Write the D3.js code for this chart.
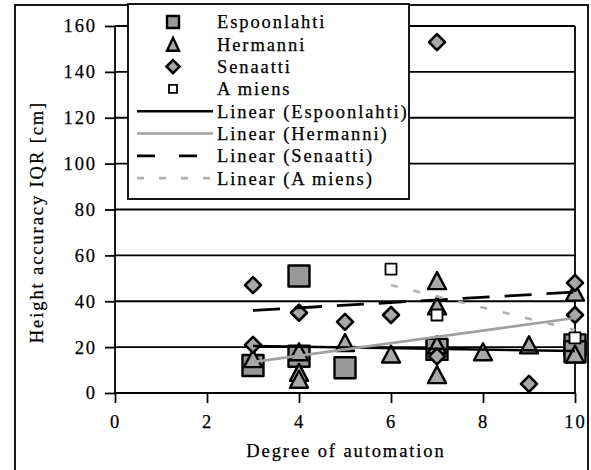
<!DOCTYPE html>
<html>
<head>
<meta charset="utf-8">
<script src="https://cdn.jsdelivr.net/npm/d3@7"></script>
<style>
    body { margin: 0; background: #fff; }
    svg { display: block; }
    text { font-family: "Liberation Serif", "Times New Roman", serif; font-size: 18.5px; letter-spacing: 1.9px; fill: #000; stroke: #000; stroke-width: 0.25px; }
</style>
</head>
<body>
<svg></svg>
<script>
    //-------------------
    // DATA
    //-------------------
    var xTicks = [0, 2, 4, 6, 8, 10];
    var yTicks = [0, 20, 40, 60, 80, 100, 120, 140, 160];

    var seriesNames = ["Espoonlahti", "Hermanni", "Senaatti", "A miens"];
    var trendNames = ["Linear (Espoonlahti)", "Linear (Hermanni)", "Linear (Senaatti)", "Linear (A miens)"];

    var espoonlahti = [[3, 12], [4, 51], [4, 16], [5, 11], [7, 19], [10, 21], [10, 18]];
    var hermanni = [[3, 15], [4, 18], [4, 9], [4, 6], [5, 22], [6, 17], [7, 49], [7, 38],
                    [7, 21], [7, 8], [8, 18], [9, 21], [10, 44], [10, 17]];
    var senaatti = [[3, 47], [3, 21], [4, 35], [5, 31], [6, 34], [7, 153], [7, 16], [9, 4], [10, 48], [10, 34]];
    var amiens = [[6, 54], [7, 34], [10, 24]];

    // trend line end points
    var trendEspoonlahti = [[3, 20.5], [10, 18.3]];
    var trendHermanni = [[3, 13.5], [10, 32.7]];
    var trendSenaatti = [[3, 36], [10, 44]];
    var trendAmiens = [[6, 47], [10, 27.5]];

    //-------------------
    // GLOBAL VARIABLES
    //-------------------
    var width = 591,
        height = 470;

    var svg = d3.select("svg")
        .attr("width", width)
        .attr("height", height);

    var x = d3.scaleLinear().domain([0, 10]).range([115, 575]);
    var y = d3.scaleLinear().domain([0, 160]).range([393, 26]);

    var gray = "#999";

    // marker path builders, centred on 0,0
    function squarePath(s) {
        return "M" + (-s / 2) + "," + (-s / 2) + "h" + s + "v" + s + "h" + (-s) + "Z";
    }
    function trianglePath(w, h) {
        return "M0," + (-h / 2) + "L" + (w / 2) + "," + (h / 2) + "L" + (-w / 2) + "," + (h / 2) + "Z";
    }
    function diamondPath(s) {
        return "M0," + (-s / 2) + "L" + (s / 2) + ",0L0," + (s / 2) + "L" + (-s / 2) + ",0Z";
    }

    var markers = [
        { data: espoonlahti, d: squarePath(21), legend: squarePath(12), fill: gray, sw: 2.4 },
        { data: hermanni, d: trianglePath(18, 17), legend: trianglePath(12, 13), fill: "#a8a8a8", sw: 2.4 },
        { data: senaatti, d: diamondPath(16), legend: diamondPath(13), fill: "#a8a8a8", sw: 2.6 },
        { data: amiens, d: squarePath(11), legend: squarePath(8), fill: "#fff", sw: 1.8 }
    ];

    var trends = [
        { data: trendEspoonlahti, stroke: "#000", dash: null, sw: 2.6 },
        { data: trendHermanni, stroke: "#a0a0a0", dash: null, sw: 2.6 },
        { data: trendSenaatti, stroke: "#000", dash: "27,15", sw: 2.8 },
        { data: trendAmiens, stroke: "#b0b0b0", dash: "7,16", sw: 2.6 }
    ];

    //-------------------
    // FRAME AND GRID
    //-------------------
    svg.append("rect")
        .attr("x", 15).attr("y", 5)
        .attr("width", 573).attr("height", 490)
        .attr("fill", "none")
        .attr("stroke", "#000")
        .attr("stroke-width", 1.8);

    svg.selectAll("line.grid").data(yTicks.filter(t => t > 0))
        .enter().append("line")
        .attr("class", "grid")
        .attr("x1", x(0)).attr("x2", x(10))
        .attr("y1", d => y(d)).attr("y2", d => y(d))
        .attr("stroke", "#000")
        .attr("stroke-width", 1.8);

    // right edge of plot area
    svg.append("line")
        .attr("x1", x(10)).attr("x2", x(10))
        .attr("y1", y(160)).attr("y2", y(0))
        .attr("stroke", "#000")
        .attr("stroke-width", 1.8);

    //-------------------
    // AXES
    //-------------------
    var yAxis = d3.axisLeft(y).tickValues(yTicks).tickSize(10).tickPadding(8);
    var xAxis = d3.axisBottom(x).tickValues(xTicks).tickSize(10).tickPadding(12);

    var gy = svg.append("g").attr("transform", "translate(" + x(0) + ",0)").call(yAxis);
    var gx = svg.append("g").attr("transform", "translate(0," + y(0) + ")").call(xAxis);

    [gy, gx].forEach(g => {
        g.select(".domain").remove();
        g.selectAll(".tick line").attr("stroke", "#000").attr("stroke-width", 1.8);
        g.selectAll(".tick text").attr("font-size", null).attr("font-family", null).attr("fill", "#000");
    });

    svg.append("line")
        .attr("x1", x(0)).attr("x2", x(0))
        .attr("y1", y(160)).attr("y2", y(0))
        .attr("stroke", "#000").attr("stroke-width", 1.8);
    svg.append("line")
        .attr("x1", x(0)).attr("x2", x(10))
        .attr("y1", y(0)).attr("y2", y(0))
        .attr("stroke", "#000").attr("stroke-width", 1.8);

    svg.append("text")
        .attr("x", 346).attr("y", 457)
        .attr("text-anchor", "middle")
        .text("Degree of automation");

    svg.append("text")
        .attr("transform", "translate(43,222) rotate(-90)")
        .attr("text-anchor", "middle")
        .text("Height accuracy IQR [cm]");

    //-------------------
    // POINTS
    //-------------------
    markers.forEach(m => {
        svg.append("g").selectAll("path").data(m.data)
            .enter().append("path")
            .attr("transform", d => "translate(" + x(d[0]) + "," + y(d[1]) + ")")
            .attr("d", m.d)
            .attr("fill", m.fill)
            .attr("stroke", "#000")
            .attr("stroke-width", m.sw)
            .attr("stroke-linejoin", "round");
    });

    //-------------------
    // TREND LINES
    //-------------------
    var line = d3.line().x(d => x(d[0])).y(d => y(d[1]));
    trends.forEach(t => {
        svg.append("path")
            .datum(t.data)
            .attr("d", line)
            .attr("fill", "none")
            .attr("stroke", t.stroke)
            .attr("stroke-width", t.sw)
            .attr("stroke-dasharray", t.dash);
    });

    //-------------------
    // LEGEND
    //-------------------
    var legend = svg.append("g");
    legend.append("rect")
        .attr("x", 128).attr("y", 4)
        .attr("width", 281).attr("height", 195)
        .attr("fill", "#fff")
        .attr("stroke", "#000")
        .attr("stroke-width", 1.8);

    var rowY = i => 22 + i * 22.3;

    markers.forEach((m, i) => {
        legend.append("path")
            .attr("transform", "translate(173," + rowY(i) + ")")
            .attr("d", m.legend)
            .attr("fill", m.fill)
            .attr("stroke", "#000")
            .attr("stroke-width", m.sw);
        legend.append("text")
            .attr("x", 217).attr("y", rowY(i))
            .attr("dy", "0.35em")
            .text(seriesNames[i]);
    });

    trends.forEach((t, i) => {
        var yy = rowY(i + 4);
        legend.append("line")
            .attr("x1", 137).attr("x2", 213)
            .attr("y1", yy).attr("y2", yy)
            .attr("stroke", t.stroke)
            .attr("stroke-width", t.sw)
            .attr("stroke-dasharray", t.dash ? (i === 2 ? "18,24" : "7,15") : null);
        legend.append("text")
            .attr("x", 217).attr("y", yy)
            .attr("dy", "0.35em")
            .text(trendNames[i]);
    });
</script>
</body>
</html>
